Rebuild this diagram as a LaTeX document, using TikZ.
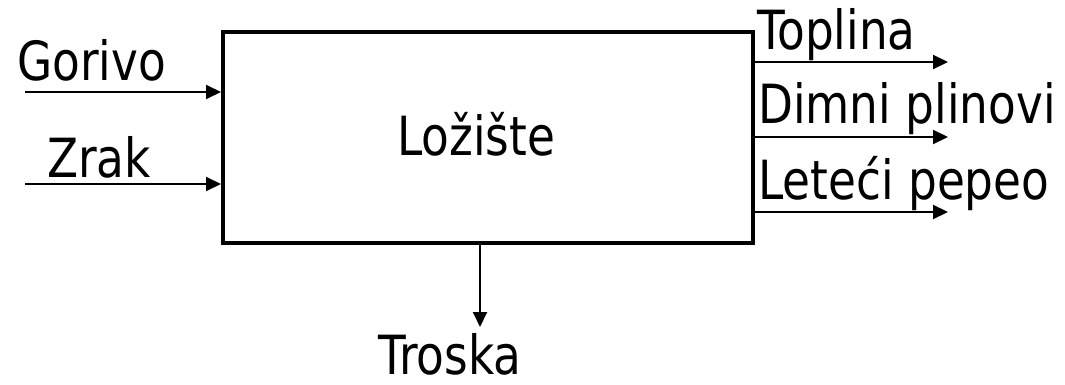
\documentclass[tikz,border=0pt]{standalone}
\usepackage{fontspec}
\setmainfont{DejaVu Sans}[FakeStretch=0.84]
\usetikzlibrary{arrows.meta}
\begin{document}
\begin{tikzpicture}[x=1pt,y=-1pt,
  lbl/.style={anchor=base west,inner sep=0pt,font=\fontsize{54}{58}\selectfont},
  arr/.style={line width=2pt,-{Triangle[length=15pt,width=14pt]}}]
\useasboundingbox (0,0) rectangle (1065,385);
\node[draw,line width=4pt,minimum width=530pt,minimum height=211pt,inner sep=0pt] (box) at (488,137.5) {};
\node[lbl] (lo) at (397,155) {Ložište};
\node[lbl] (gor) at (17,81) {Gorivo};
\node[lbl] (zr) at (47,177) {Zrak};
\node[lbl] (top) at (757,50) {Toplina};
\node[lbl] (dim) at (758,124) {Dimni plinovi};
\node[lbl] (let) at (758,199) {Leteći pepeo};
\node[lbl] (tro) at (378,374) {Troska};
\coordinate (g0) at (25,92);
\coordinate (z0) at (25,184);
\coordinate (t1) at (948,62);
\coordinate (d1) at (948,137);
\coordinate (l1) at (948,212);
\coordinate (s1) at (480,327);
\draw[arr] (g0) -- (g0 -| box.west);
\draw[arr] (z0) -- (z0 -| box.west);
\draw[arr] (t1 -| box.east) -- (t1);
\draw[arr] (d1 -| box.east) -- (d1);
\draw[arr] (l1 -| box.east) -- (l1);
\draw[arr] (s1 |- box.south) -- (s1);
\end{tikzpicture}
\end{document}
